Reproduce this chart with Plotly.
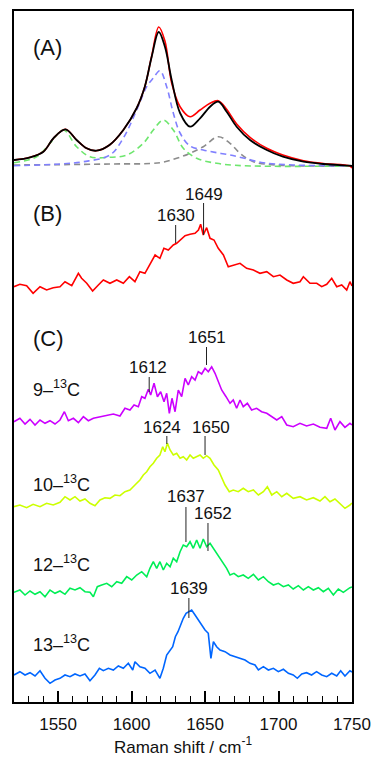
import plotly.graph_objects as go

# ---------------- data (wavenumber in cm^-1, intensity in arbitrary units) ----------------
# (A) observed / fitted spectrum and components
a_obs_x = [1520, 1531, 1540, 1547, 1555, 1562.6, 1569.4, 1576, 1585, 1594.4, 1603.5, 1609, 1613.7, 1618.5,
           1622.7, 1627.3, 1633, 1639.8, 1646.6, 1653.4, 1659, 1664.7, 1671.5, 1680.6, 1692, 1703, 1717, 1730.5, 1748.6, 1750]
a_red_y = [6, 8.7, 14.3, 28, 36.7, 26, 17.7, 15.3, 21, 36, 58, 79.3, 110, 139,
           125, 83, 59.3, 49.3, 56, 62.7, 65.3, 56.7, 42, 28.7, 17.7, 11, 5.3, 2.5, 0, -2]
a_black_y = [6, 8.7, 14.3, 28, 36.7, 26, 17.7, 15.3, 21, 36, 58, 79.3, 109.3, 134,
             119.3, 86, 53, 39.3, 47.7, 59.3, 64.3, 54.3, 39.3, 26, 16, 9.3, 4.3, 2, 0.3, 0]

a_blue_x = [1520, 1551.3, 1567.2, 1585.3, 1594.4, 1603.5, 1610.3, 1614.8, 1619.3, 1623.9, 1628.4, 1633,
            1639.8, 1648.8, 1657.9, 1667, 1676, 1689.6, 1710, 1750]
a_blue_y = [0.3, 2, 4.3, 11, 28, 56, 79.3, 88, 95.3, 79.3, 53, 33, 20, 16, 13.3, 11, 8, 3.3, 1, 0.3]

a_green_x = [1520, 1535.4, 1544.5, 1553.6, 1562.6, 1571.7, 1585.3, 1596.7, 1608, 1614.8, 1621.6, 1628.4,
             1635.2, 1644.3, 1657.9, 1676, 1750]
a_green_y = [3.3, 9.3, 22.7, 36, 19.3, 9.3, 8.7, 11, 22.7, 36, 46, 36, 17.7, 7.7, 2.7, 0.3, 0]

a_gray_x = [1520, 1585, 1619.3, 1630.7, 1639.8, 1648.8, 1659, 1667, 1673.8, 1682.9, 1698.8, 1750]
a_gray_y = [1, 2, 3.3, 7.7, 12.7, 19.3, 29.3, 22.7, 12.7, 4.3, 1, 0]

# (B)
b_x = [1520, 1524, 1528.6, 1533, 1537.7, 1542.2, 1546.7, 1551.3, 1554.7, 1559.3, 1563.8, 1566, 1569.5, 1573.5,
       1577.4, 1580.8, 1585.3, 1589.9, 1594.4, 1598.5, 1602.3, 1605.7, 1609.1, 1612.5, 1616, 1619.3, 1622, 1625,
       1628.4, 1630.7, 1633.4, 1636.4, 1639.8, 1643.2, 1645.5, 1647, 1648.8, 1651.1, 1653.4, 1656.1, 1659, 1662.5,
       1665.8, 1669.2, 1673.8, 1678.3, 1682.9, 1687.4, 1692, 1696.5, 1701, 1705.6, 1710, 1714.6, 1716.9, 1721.4,
       1726, 1729.4, 1732.8, 1736.2, 1739.6, 1743, 1746.4, 1748.6, 1750]
b_y = [3.3, 5.7, 4.3, -3.3, 3.3, 0, 2.3, 3.3, 8.3, 4.3, 16.7, 11.7, 6.7, -1,
       5, 10, 6.7, 10, 6.7, 13.3, 8.3, 18.3, 16.7, 25, 35, 31.7, 41.7, 40,
       45, 46.7, 50, 54.3, 55.7, 56.7, 60, 65.7, 55, 62.3, 51.7, 50, 41.7, 35,
       23.3, 25, 26.7, 21.7, 20, 16.7, 18.3, 13.3, 15, 10, 6.7, 8.3, 13.3, 6.7,
       6.7, 3.3, 5.7, 11.7, 3.3, 5, 0, 8.3, 4]

# (C) 9-13C
c9_x = [1520, 1524, 1527.5, 1530.9, 1534.3, 1537.7, 1541.1, 1544.5, 1547.9, 1551.3, 1554.3, 1557, 1560.4, 1563.8,
        1567.2, 1570.6, 1574, 1578.5, 1583.1, 1587.6, 1592.1, 1595.5, 1598.9, 1601.7, 1604.6, 1606.9, 1609.1, 1611.4,
        1613, 1615.3, 1617.6, 1619.8, 1622.1, 1623.9, 1625.7, 1627.5, 1629.6, 1631.8, 1634.1, 1636.4, 1638.6, 1640.9,
        1643.2, 1645.4, 1647.7, 1650, 1652.2, 1654.5, 1656.8, 1659, 1661.3, 1664.3, 1667, 1669.2, 1671.5, 1673.8,
        1676, 1678.8, 1681.7, 1685.1, 1688.5, 1692, 1695.4, 1698.8, 1702.2, 1705.6, 1710, 1714.6, 1719.1, 1723.7,
        1728.2, 1732.8, 1735.5, 1738.4, 1741.8, 1745.2, 1748.6, 1750]
c9_y = [3.3, 6.7, 1, 5.7, 0, 5, 1.7, 4.3, 1, 5, 13.3, 4.3, 6.7, 2.3,
        8.3, 4.3, 6.7, 8.3, 10, 11, 9, 16.7, 15, 20, 18.3, 28.3, 26.7, 35.7,
        30, 41.7, 28.3, 33.3, 23.3, 31.7, 11.7, 26.7, 13.3, 35, 28.3, 46.7, 40, 48.3,
        45, 53.3, 51, 56.7, 53.3, 58.3, 51.7, 43.3, 35, 28.3, 21.7, 25, 16.7, 25,
        18.3, 21.7, 15, 16.7, 13.3, 11.7, 8.3, 5, 8.3, 0, -1.7, 1.7, -1, 1,
        -2.3, -3.3, 6.7, -5, 3.3, -2.3, 1.7, 0]

# (C) 10-13C
c10_x = [1520, 1524, 1528.6, 1533, 1537.7, 1542.2, 1546.7, 1551.3, 1554.7, 1558.1, 1561.5, 1564.9, 1568.3, 1571.7,
         1575.1, 1578.5, 1581.9, 1585.3, 1588.7, 1592.1, 1595.5, 1598.9, 1602.3, 1605.7, 1608, 1610.3, 1612.5, 1614.8,
         1617.1, 1619.3, 1621.2, 1622.7, 1624.4, 1626.2, 1628.4, 1630.7, 1633, 1635.2, 1637.5, 1639.8, 1642, 1644.3,
         1646.6, 1648.8, 1651.1, 1653.4, 1656.1, 1659, 1661.3, 1663.6, 1666.5, 1669.2, 1672.6, 1676, 1679.4, 1682.9,
         1686.3, 1689.7, 1692.4, 1695.4, 1698.8, 1702.2, 1705.6, 1710, 1714.6, 1719.1, 1723.7, 1728.2, 1731.6, 1735,
         1738.4, 1741.8, 1745.2, 1748.6, 1750]
c10_y = [1.3, 3, 0.3, 3.7, 1.3, 4.7, 3, 5.7, 11.3, 8, 11.3, 7, 9, 4.7,
         2.3, 8, 10.3, 9.7, 13, 12.3, 16.3, 18, 23, 28, 33, 36.3, 41.3, 44.7,
         49.7, 53, 61.3, 56.3, 64.7, 58, 53, 54.7, 49.7, 51.3, 48, 53, 49.7, 51.3,
         53, 49.7, 52.3, 49.7, 43, 38, 31.3, 23, 16.3, 18, 16.3, 19.7, 16.3, 18,
         13, 16.3, 21.3, 13, 16.3, 11.3, 14.7, 9.7, 11.3, 8, 10.3, 7, 11.3, 6.3,
         9, 4.7, -0.3, 3, 5]

# (C) 12-13C
c12_x = [1520, 1524, 1527.5, 1530.9, 1534.3, 1537.7, 1541.1, 1544.5, 1547.9, 1551.3, 1554.7, 1558.1, 1561.5, 1564.9,
         1568.3, 1571.7, 1574, 1576.7, 1579.7, 1583.1, 1586.5, 1589.9, 1593.3, 1596.7, 1600.1, 1603.5, 1606.9, 1610.3,
         1612.5, 1614.8, 1617.1, 1619.3, 1621.6, 1623.9, 1626.2, 1628.4, 1630.7, 1633, 1635.2, 1637.5, 1639.8, 1642,
         1644.3, 1646.6, 1648.8, 1651.1, 1653.4, 1655.7, 1657.9, 1660.2, 1662.5, 1664.7, 1667, 1669.7, 1672.6, 1676,
         1679.4, 1682.9, 1686.3, 1689.7, 1693.1, 1696.5, 1699.9, 1703.3, 1706.7, 1710, 1713.5, 1716.9, 1720.3, 1723.7,
         1727.1, 1730.5, 1733.9, 1737.3, 1740.7, 1744.1, 1748.6, 1750]
c12_y = [2.7, 5, 0, 4, 0.7, 3.3, -1.7, 5, 1.7, 4, 0.7, 6.7, 5, 7.3,
         3.3, 2.7, -1.7, 8.3, 10, 11.7, 8.3, 13.3, 11.7, 18.3, 15, 20, 23.3, 18.3,
         26.7, 33.3, 26.7, 33.3, 25, 31.7, 28.3, 36.7, 33.3, 43.3, 50, 48.3, 53.3, 46.7,
         55, 46.7, 56, 48.3, 51.7, 46.7, 41.7, 36.7, 31.7, 26.7, 20, 21.7, 18.3, 20,
         16.7, 20.7, 15, 18.3, 13.3, 10, 11.7, 8.3, 10, 6, 9.3, 5, 8.3, 5,
         7.3, 3.3, 6.7, 0, 6, 2.7, 7.3, 8]

# (C) 13-13C
c13_x = [1520, 1524, 1527.5, 1530.9, 1534.3, 1537.7, 1541.1, 1544.5, 1547.9, 1551.3, 1554.7, 1558.1, 1561.5, 1564.9,
         1568.3, 1571.7, 1575.1, 1578.1, 1580.8, 1584.2, 1587.6, 1591, 1594.4, 1597.8, 1600.8, 1602.3, 1605.7, 1609.1,
         1612.5, 1616, 1619.3, 1621.6, 1623.9, 1626.2, 1628, 1629.8, 1631.6, 1633.4, 1635.2, 1637.1, 1638.9, 1640.9,
         1643.2, 1645.4, 1647.7, 1650, 1652.2, 1654, 1655.7, 1657.9, 1660.2, 1663.6, 1667, 1670.4, 1673.8, 1677.2,
         1680.6, 1684, 1686.3, 1689.7, 1693.1, 1696.5, 1699.9, 1703.3, 1706.7, 1710, 1712.8, 1715.8, 1719.1, 1722.5,
         1725.9, 1729.4, 1732.8, 1736.2, 1739.6, 1742.3, 1745.2, 1748.6, 1750]
c13_y = [3, 6.3, 3, 5.3, 2, 7.3, -0.3, -5.3, -2, -0.3, 3, 1.3, 4, 2,
         4, -2.7, 3, 9.7, 7.3, 9.7, 8, 12, 9.7, 14.7, 8, 16.3, 11.3, 9.7,
         4.7, 8, -0.3, 9.7, 23, 28, 31.3, 41.3, 46.3, 53, 59.7, 64.7, 66.3, 68,
         63, 58, 53, 48, 44.7, 19.7, 36.3, 31.3, 28, 26.3, 23, 21.3, 19.7, 18,
         14.7, 13, 8, 11.3, 8, 9.7, 6.3, 8.7, 4.7, 3, -0.3, 4, 5.3, 3,
         6.3, 3, 1.3, 4.7, 2, 7.3, 2, 7.3, 6]

# peak labels: (wavenumber of marker, label text)
peaks_b = [(1630, "1630"), (1649, "1649")]
peaks_c9 = [(1612, "1612"), (1651, "1651")]
peaks_c10 = [(1624, "1624"), (1650, "1650")]
peaks_c12 = [(1637, "1637"), (1652, "1652")]
peaks_c13 = [(1639, "1639")]

x_ticks = [1550, 1600, 1650, 1700, 1750]

# ---------------- figure ----------------
FONT = "Liberation Sans, Arial, sans-serif"
fig = go.Figure()

# vertical offsets of the stacked spectra
OFF_A, OFF_B, OFF_9, OFF_10, OFF_12, OFF_13 = 536, 412, 277, 194, 107, 24


def add_line(xs, ys, off, color, width=1.6, dash=None, shape="linear"):
    fig.add_trace(go.Scatter(
        x=xs, y=[v + off for v in ys], mode="lines",
        line=dict(color=color, width=width, dash=dash, shape=shape),
        hoverinfo="skip", showlegend=False))


# (A) components first (behind), then observed
add_line(a_gray_x, a_gray_y, OFF_A, "#8c8c8c", 1.6, "6px,4px", "spline")
add_line(a_green_x, a_green_y, OFF_A, "#6ee66e", 1.6, "6px,4px", "spline")
add_line(a_blue_x, a_blue_y, OFF_A, "#8080ff", 1.6, "6px,4px", "spline")
add_line(a_obs_x, a_red_y, OFF_A, "#ff0000", 1.6, None, "spline")
add_line(a_obs_x, a_black_y, OFF_A, "#000000", 1.8, None, "spline")

add_line(b_x, b_y, OFF_B, "#ff0000", 1.6)
add_line(c9_x, c9_y, OFF_9, "#cc00ff", 1.6)
add_line(c10_x, c10_y, OFF_10, "#ccff00", 1.6)
add_line(c12_x, c12_y, OFF_12, "#00ee55", 1.6)
add_line(c13_x, c13_y, OFF_13, "#0066ff", 1.6)

# peak markers: (label text x, label y, line top, line bottom)
marker_geom = {
    "1630": (1630, 487, 477, 459),
    "1649": (1649, 508, 499, 467),
    "1612": (1611.4, 335, 325, 310),
    "1651": (1651, 365, 355, 337),
    "1624": (1620.5, 275, 266, 258),
    "1650": (1653.8, 275, 266, 247),
    "1637": (1636.8, 206, 195, 160),
    "1652": (1655.6, 189, 179, 151),
    "1639": (1639, 114, 104, 84),
}
for group in (peaks_b, peaks_c9, peaks_c10, peaks_c12, peaks_c13):
    for wn, txt in group:
        tx, ty, y0, y1 = marker_geom[txt]
        fig.add_shape(type="line", x0=wn, x1=wn, y0=y0, y1=y1, xref="x", yref="y",
                      line=dict(color="#222222", width=1))
        fig.add_annotation(x=tx, y=ty, text=txt, showarrow=False, xref="x", yref="y",
                           font=dict(family=FONT, size=17, color="#111111"),
                           xanchor="center", yanchor="middle")

# panel labels
for txt, y in (("(A)", 655), ("(B)", 489), ("(C)", 364)):
    fig.add_annotation(x=1531.5, y=y, text=txt, showarrow=False, xref="x", yref="y",
                       font=dict(family=FONT, size=22, color="#111111"),
                       xanchor="left", yanchor="middle")

for txt, y in (("9–<sup>13</sup>C", 314), ("10–<sup>13</sup>C", 219),
               ("12–<sup>13</sup>C", 139), ("13–<sup>13</sup>C", 59)):
    fig.add_annotation(x=1531.5, y=y, text=txt, showarrow=False, xref="x", yref="y",
                       font=dict(family=FONT, size=18, color="#111111"),
                       xanchor="left", yanchor="middle")

fig.update_layout(
    width=374, height=758,
    margin=dict(l=14, r=22, t=11, b=56, autoexpand=False),
    paper_bgcolor="white", plot_bgcolor="white",
    font=dict(family=FONT, size=17, color="#111111"),
    showlegend=False,
)
fig.update_xaxes(
    automargin=False,
    range=[1520, 1750], showgrid=False, zeroline=False,
    showline=True, linecolor="black", linewidth=2, mirror=True,
    ticks="inside", ticklen=11, tickwidth=1.5, tickcolor="black",
    tickvals=x_ticks, ticktext=[str(v) for v in x_ticks],
    tickfont=dict(family=FONT, size=17, color="#111111"),
    ticklabelstandoff=6,
    minor=dict(ticks="inside", ticklen=6, tickwidth=1.2, tickcolor="black", dtick=10, tick0=1520, showgrid=False),
    title=dict(text="Raman shift / cm<sup>-1</sup>", font=dict(family=FONT, size=17, color="#111111"), standoff=4),
)
fig.update_yaxes(
    automargin=False,
    range=[0, 691], showgrid=False, zeroline=False, showticklabels=False,
    showline=True, linecolor="black", linewidth=2, mirror=True, ticks="",
)

fig.write_html("out.html", config={"displayModeBar": False},
               post_script="document.body.style.margin='0';document.body.style.overflow='hidden';")
